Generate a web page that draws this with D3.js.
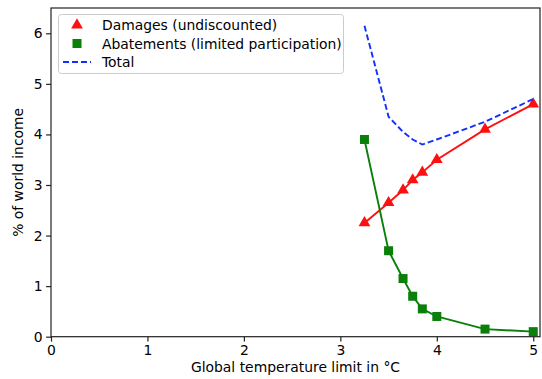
<!DOCTYPE html>
<html><head><meta charset="utf-8">
<script src="https://cdn.jsdelivr.net/npm/d3@7"></script>
<style>
body{margin:0;background:#fff;}
text{font-family:"DejaVu Sans",sans-serif;fill:#000;}
</style></head>
<body><svg id="c" width="542" height="379"></svg>
<script>
const temps = [3.25, 3.5, 3.65, 3.75, 3.85, 4, 4.5, 5];
const damages = [2.25, 2.65, 2.9, 3.1, 3.25, 3.5, 4.1, 4.6];
const abatements = [3.9, 1.7, 1.15, 0.8, 0.55, 0.4, 0.15, 0.1];
const totals = [6.15, 4.35, 4.05, 3.9, 3.8, 3.9, 4.25, 4.7];
const xTicks = [0, 1, 2, 3, 4, 5];
const yTicks = [0, 1, 2, 3, 4, 5, 6];
const seriesNames = ["Damages (undiscounted)", "Abatements (limited participation)", "Total"];

const svg = d3.select("#c");
const L = 51, R = 540, T = 8, B = 336.7;
const x = d3.scaleLinear().domain([0, 5.07]).range([L, R]);
const y = d3.scaleLinear().domain([0, 6.5]).range([B, T]);
const fs = "13.9px";
const RED = "#ff1010", GREEN = "#0a800a", BLUE = "#1030ff";
const LW = 1.9, DASH = "6,3";

const line = d3.line().x(d => x(d[0])).y(d => y(d[1]));
const g = svg.append("g");
const dmg = temps.map((t, i) => [t, damages[i]]);
const abt = temps.map((t, i) => [t, abatements[i]]);
const tot = temps.map((t, i) => [t, totals[i]]);
const triSym = d3.symbol().type(d3.symbolTriangle).size(60);

g.append("path").attr("d", line(dmg)).attr("fill","none").attr("stroke",RED).attr("stroke-width",LW);
g.selectAll(".tri").data(dmg).join("path").attr("d", triSym)
  .attr("transform", d => `translate(${x(d[0])},${y(d[1])})`).attr("fill",RED);

g.append("path").attr("d", line(abt)).attr("fill","none").attr("stroke",GREEN).attr("stroke-width",LW);
g.selectAll(".sq").data(abt).join("rect").attr("x", d => x(d[0]) - 4.5).attr("y", d => y(d[1]) - 4.5)
  .attr("width", 9).attr("height", 9).attr("fill",GREEN);

g.append("path").attr("d", line(tot)).attr("fill","none").attr("stroke",BLUE).attr("stroke-width",LW)
  .attr("stroke-dasharray",DASH);

// axes
const xAxis = d3.axisBottom(x).tickValues(xTicks).tickFormat(d3.format("d")).tickSizeOuter(0).tickSize(4.9).tickPadding(3.5);
const yAxis = d3.axisLeft(y).tickValues(yTicks).tickFormat(d3.format("d")).tickSizeOuter(0).tickSize(4.9).tickPadding(3.5);
const gx = svg.append("g").attr("transform", `translate(0,${B})`).call(xAxis);
const gy = svg.append("g").attr("transform", `translate(${L},0)`).call(yAxis);
[gx, gy].forEach(a => {
  a.select(".domain").remove();
  a.selectAll("text").style("font-size", fs).attr("fill","#000");
  a.selectAll("line").attr("stroke","#222").attr("stroke-width",1.2);
});
svg.append("rect").attr("x", L).attr("y", T).attr("width", R - L).attr("height", B - T)
  .attr("fill","none").attr("stroke","#222").attr("stroke-width",1.2);

svg.append("text").attr("x", (L + R) / 2).attr("y", 372).attr("text-anchor","middle").style("font-size", fs)
  .text("Global temperature limit in °C");
svg.append("text").attr("transform", `translate(23,${(T + B) / 2}) rotate(-90)`).attr("text-anchor","middle")
  .style("font-size", fs).text("% of world income");

// legend
const lg = svg.append("g");
lg.append("rect").attr("x", 58.5).attr("y", 14.5).attr("width", 285).attr("height", 59).attr("rx", 3)
  .attr("fill","#fff").attr("fill-opacity",0.8).attr("stroke","#cccccc");
const rows = [25, 43.5, 62];
lg.append("path").attr("d", triSym).attr("transform", `translate(77,${rows[0]})`).attr("fill",RED);
lg.append("rect").attr("x", 72.5).attr("y", rows[1] - 4.5).attr("width", 9).attr("height", 9).attr("fill",GREEN);
lg.append("line").attr("x1", 63).attr("x2", 91).attr("y1", rows[2]).attr("y2", rows[2]).attr("stroke",BLUE)
  .attr("stroke-width",LW).attr("stroke-dasharray",DASH);
seriesNames.forEach((n, i) => {
  lg.append("text").attr("x", 102).attr("y", rows[i]).attr("dy","0.36em").style("font-size", fs).text(n);
});
</script></body></html>
